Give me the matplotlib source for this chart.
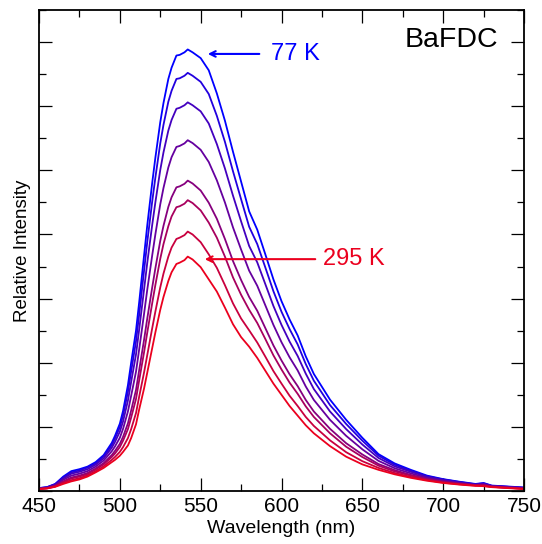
import numpy as np
import matplotlib
matplotlib.use('Agg')
import matplotlib.pyplot as plt
from matplotlib.ticker import MultipleLocator

plt.rcParams['font.family'] = ['Liberation Sans', 'DejaVu Sans']

wavelength = [450, 455, 460, 465, 470, 475, 480, 485, 490, 495,
              497, 500, 502, 505, 507, 510, 512, 515, 517, 520,
              522, 525, 527, 530, 532, 535, 537, 540, 542, 545,
              550, 555, 560, 565, 570, 575, 580, 585, 590, 595, 600, 605, 610, 615, 620,
              630, 640, 650, 660, 670, 680, 690, 700, 710,
              720, 725, 730, 740, 750]

# spectra from 77 K (top) to 295 K (bottom)
k077 = [0.09, 0.12, 0.22, 0.45, 0.62, 0.68, 0.76, 0.90, 1.12, 1.50,
        1.72, 2.10, 2.50, 3.30, 4.00, 5.00, 5.90, 7.35, 8.30, 9.60,
        10.40, 11.50, 12.10, 12.85, 13.20, 13.58, 13.60, 13.68, 13.77, 13.68,
        13.50, 13.12, 12.40, 11.55, 10.58, 9.65, 8.72, 8.15, 7.38, 6.60, 5.92, 5.35, 4.85, 4.20, 3.65,
        2.85, 2.22, 1.66, 1.15, 0.86, 0.66, 0.48, 0.37, 0.29,
        0.22, 0.25, 0.17, 0.14, 0.11]
t2 = [0.09, 0.12, 0.21, 0.42, 0.58, 0.64, 0.73, 0.86, 1.08, 1.43,
      1.64, 1.99, 2.36, 3.09, 3.73, 4.67, 5.52, 6.88, 7.78, 9.02,
      9.78, 10.84, 11.42, 12.14, 12.48, 12.85, 12.87, 12.95, 13.04, 12.95,
      12.76, 12.38, 11.70, 10.89, 9.97, 9.10, 8.24, 7.70, 6.97, 6.23, 5.59, 5.05, 4.57, 3.96, 3.44,
      2.68, 2.09, 1.57, 1.10, 0.82, 0.63, 0.46, 0.36, 0.28,
      0.21, 0.24, 0.16, 0.13, 0.10]
t3 = [0.08, 0.11, 0.20, 0.39, 0.54, 0.60, 0.68, 0.82, 1.02, 1.35,
      1.53, 1.85, 2.17, 2.82, 3.40, 4.26, 5.05, 6.29, 7.13, 8.29,
      9.01, 10.01, 10.56, 11.24, 11.57, 11.92, 11.95, 12.03, 12.12, 12.03,
      11.84, 11.46, 10.82, 10.06, 9.21, 8.41, 7.64, 7.13, 6.45, 5.77, 5.18, 4.66, 4.21, 3.66, 3.18,
      2.48, 1.93, 1.45, 1.03, 0.77, 0.60, 0.44, 0.34, 0.27,
      0.20, 0.22, 0.16, 0.13, 0.10]
t4 = [0.08, 0.10, 0.18, 0.35, 0.48, 0.54, 0.62, 0.76, 0.95, 1.24,
      1.39, 1.66, 1.94, 2.48, 2.97, 3.72, 4.43, 5.53, 6.29, 7.34,
      8.01, 8.94, 9.45, 10.09, 10.41, 10.73, 10.76, 10.84, 10.94, 10.85,
      10.64, 10.26, 9.69, 9.00, 8.22, 7.53, 6.87, 6.40, 5.79, 5.18, 4.64, 4.17, 3.76, 3.26, 2.84,
      2.22, 1.72, 1.30, 0.94, 0.71, 0.55, 0.41, 0.32, 0.25,
      0.19, 0.21, 0.15, 0.12, 0.09]
t5 = [0.07, 0.09, 0.16, 0.30, 0.42, 0.48, 0.56, 0.70, 0.87, 1.12,
      1.25, 1.47, 1.69, 2.11, 2.51, 3.15, 3.78, 4.72, 5.39, 6.34,
      6.95, 7.80, 8.27, 8.86, 9.16, 9.47, 9.50, 9.58, 9.68, 9.59,
      9.37, 8.99, 8.49, 7.86, 7.17, 6.58, 6.05, 5.62, 5.08, 4.54, 4.07, 3.64, 3.27, 2.84, 2.48,
      1.94, 1.49, 1.14, 0.84, 0.65, 0.50, 0.38, 0.29, 0.23,
      0.18, 0.19, 0.14, 0.11, 0.08]
t6 = [0.07, 0.09, 0.15, 0.28, 0.39, 0.45, 0.53, 0.67, 0.83, 1.06,
      1.17, 1.37, 1.57, 1.93, 2.29, 2.87, 3.46, 4.33, 4.95, 5.85,
      6.43, 7.24, 7.70, 8.26, 8.56, 8.85, 8.88, 8.96, 9.07, 8.98,
      8.75, 8.37, 7.90, 7.31, 6.66, 6.12, 5.65, 5.24, 4.74, 4.23, 3.79, 3.38, 3.03, 2.64, 2.31,
      1.80, 1.38, 1.06, 0.79, 0.61, 0.48, 0.36, 0.28, 0.22,
      0.18, 0.18, 0.13, 0.10, 0.07]
t7 = [0.06, 0.08, 0.14, 0.25, 0.34, 0.40, 0.49, 0.62, 0.77, 0.97,
      1.06, 1.22, 1.37, 1.65, 1.93, 2.43, 2.95, 3.70, 4.25, 5.07,
      5.60, 6.35, 6.78, 7.31, 7.59, 7.86, 7.90, 7.98, 8.09, 8.00,
      7.76, 7.38, 6.96, 6.42, 5.85, 5.38, 5.01, 4.63, 4.19, 3.74, 3.35, 2.97, 2.65, 2.31, 2.03,
      1.58, 1.21, 0.93, 0.72, 0.56, 0.44, 0.34, 0.26, 0.21,
      0.17, 0.16, 0.13, 0.10, 0.07]
k295 = [0.06, 0.08, 0.13, 0.22, 0.30, 0.36, 0.45, 0.58, 0.72, 0.90,
        0.97, 1.10, 1.22, 1.42, 1.65, 2.08, 2.55, 3.20, 3.70, 4.45,
        4.95, 5.65, 6.05, 6.55, 6.82, 7.08, 7.12, 7.20, 7.31, 7.22,
        6.98, 6.60, 6.22, 5.72, 5.20, 4.80, 4.50, 4.15, 3.75, 3.35, 3.00, 2.65, 2.35, 2.05, 1.80,
        1.40, 1.07, 0.83, 0.66, 0.52, 0.41, 0.32, 0.25, 0.20,
        0.16, 0.15, 0.12, 0.09, 0.06]

spectra = [k077, t2, t3, t4, t5, t6, t7, k295]

fig = plt.figure(figsize=(5.42, 5.44), dpi=100)
ax = fig.add_axes([39 / 542, 53 / 544, 485 / 542, 481 / 544])

blue = np.array([0, 0, 255]) / 255
red = np.array([235, 0, 30]) / 255
n = len(spectra)
for i, s in enumerate(spectra):
    c = blue + (red - blue) * i / (n - 1)
    ax.plot(wavelength, s, color=c, lw=1.3)

ax.set_xlim(450, 750)
ax.set_ylim(0, 15)
ax.xaxis.set_major_locator(MultipleLocator(50))
ax.xaxis.set_minor_locator(MultipleLocator(25))
ax.yaxis.set_major_locator(MultipleLocator(2))
ax.yaxis.set_minor_locator(MultipleLocator(1))
ax.set_yticklabels([])
ax.tick_params(which='both', direction='in', top=True, right=True, width=0.9)
ax.tick_params(which='major', length=9.4, labelsize=15, pad=4)
ax.tick_params(which='minor', length=4.7)
for sp in ax.spines.values():
    sp.set_linewidth(1.3)

ax.set_xlabel('Wavelength (nm)', fontsize=14, labelpad=3)
ax.set_ylabel('Relative Intensity', fontsize=13.5, labelpad=2)

ax.annotate('', xy=(552.7, 13.63), xytext=(588, 13.63),
            arrowprops=dict(arrowstyle='->', color='#0000ff', lw=1.5))
ax.text(593.5, 13.63, '77 K', color='#0000ff', fontsize=17, va='center')
ax.annotate('', xy=(550.8, 7.23), xytext=(622.6, 7.23),
            arrowprops=dict(arrowstyle='->', color='#eb001e', lw=1.5))
ax.text(625.7, 7.23, '295 K', color='#eb001e', fontsize=17, va='center')
ax.text(734, 14.06, 'BaFDC', color='black', fontsize=20.5, va='center', ha='right')

fig.savefig('out.png', dpi=100)
